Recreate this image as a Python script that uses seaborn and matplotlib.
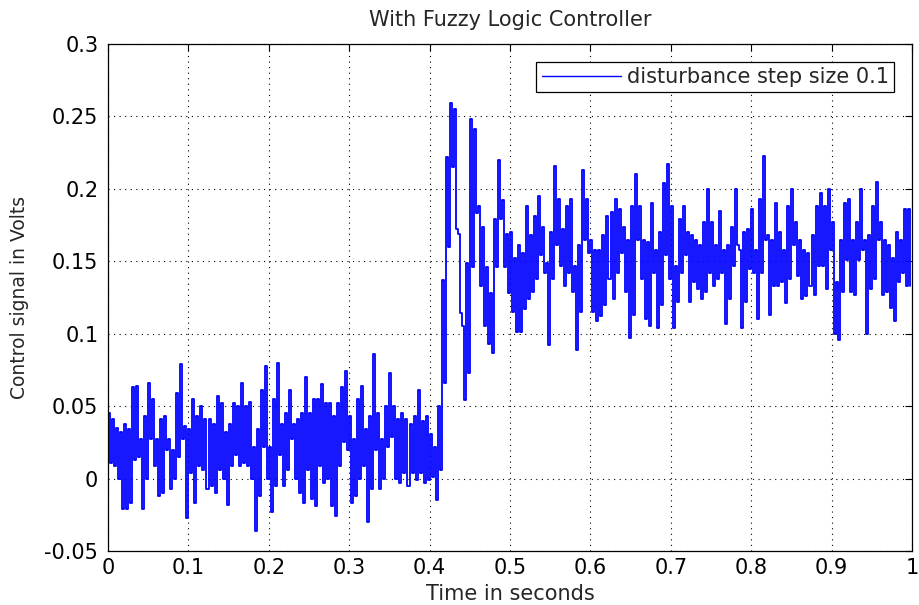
import numpy as np
import pandas as pd
import matplotlib
matplotlib.use("Agg")
import matplotlib.pyplot as plt
import seaborn as sns

# Control signal, sampled every 2.5 ms: for each 5 ms window the upper and
# lower excursion of the signal, in volts.
upper_a = [0.045, 0.041, 0.035, 0.032, 0.038, 0.034, 0.063, 0.064, 0.027, 0.043,
           0.066, 0.055, 0.027, 0.041, 0.043, 0.027, 0.020, 0.059, 0.079, 0.036,
           0.034, 0.055, 0.043, 0.050, 0.041]
lower_a = [0.011, 0.009, 0.000, -0.021, -0.021, -0.017, 0.013, 0.015, -0.021, 0.000,
           0.027, 0.009, -0.012, -0.010, 0.020, -0.007, 0.000, 0.015, 0.027, -0.027,
           0.004, -0.017, 0.009, 0.006, -0.007]
upper_b = [0.041, 0.038, 0.057, 0.052, 0.032, 0.038, 0.052, 0.050, 0.066, 0.050,
           0.053, 0.022, 0.034, 0.061, 0.078, 0.022, 0.055, 0.080, 0.038, 0.045,
           0.061, 0.038, 0.041, 0.045, 0.070]
lower_b = [-0.005, -0.010, 0.006, 0.000, -0.018, 0.009, 0.016, 0.009, 0.011, 0.009,
           0.000, -0.036, -0.012, 0.022, 0.000, -0.023, -0.005, 0.016, -0.005, 0.006,
           0.027, 0.000, -0.010, -0.017, 0.006]
upper_c = [0.045, 0.055, 0.055, 0.065, 0.052, 0.052, 0.043, 0.052, 0.063, 0.074,
           0.043, 0.027, 0.055, 0.064, 0.034, 0.043, 0.086, 0.045, 0.027, 0.050,
           0.073, 0.050, 0.041, 0.045, 0.041]
lower_c = [-0.014, -0.019, 0.009, -0.003, 0.000, -0.019, -0.026, 0.009, 0.025, 0.020,
           -0.017, -0.012, 0.000, 0.009, -0.030, -0.007, 0.020, -0.007, 0.000, 0.022,
           0.029, 0.000, -0.003, 0.004, -0.005]
upper_d = [0.038, 0.043, 0.061, 0.040, 0.043, 0.031, 0.022, 0.050, 0.137, 0.222,
           0.259, 0.255, 0.169, 0.105, 0.149, 0.248, 0.241, 0.188, 0.174, 0.146,
           0.128, 0.179, 0.220, 0.192, 0.169]
lower_d = [0.004, -0.001, 0.004, -0.003, -0.001, 0.001, -0.015, 0.006, 0.066, 0.160,
           0.215, 0.172, 0.114, 0.054, 0.073, 0.146, 0.183, 0.133, 0.105, 0.093,
           0.087, 0.146, 0.179, 0.146, 0.128]
upper_e = [0.170, 0.152, 0.161, 0.156, 0.188, 0.168, 0.181, 0.195, 0.174, 0.149,
           0.170, 0.216, 0.193, 0.172, 0.188, 0.193, 0.147, 0.161, 0.213, 0.193,
           0.165, 0.158, 0.158, 0.168, 0.181]
lower_e = [0.115, 0.101, 0.101, 0.117, 0.124, 0.129, 0.138, 0.154, 0.142, 0.092,
           0.138, 0.161, 0.147, 0.133, 0.142, 0.129, 0.089, 0.115, 0.165, 0.156,
           0.115, 0.109, 0.112, 0.120, 0.138]
upper_f = [0.184, 0.193, 0.186, 0.174, 0.165, 0.188, 0.210, 0.188, 0.165, 0.163,
           0.190, 0.158, 0.170, 0.204, 0.217, 0.188, 0.147, 0.179, 0.188, 0.170,
           0.168, 0.165, 0.161, 0.177, 0.200]
lower_f = [0.124, 0.142, 0.156, 0.129, 0.097, 0.113, 0.165, 0.138, 0.110, 0.105,
           0.142, 0.104, 0.120, 0.154, 0.138, 0.104, 0.122, 0.142, 0.154, 0.122,
           0.136, 0.131, 0.124, 0.129, 0.142]
upper_g = [0.177, 0.161, 0.185, 0.158, 0.161, 0.174, 0.200, 0.158, 0.170, 0.172,
           0.186, 0.158, 0.193, 0.223, 0.168, 0.165, 0.190, 0.170, 0.158, 0.188,
           0.200, 0.177, 0.165, 0.158, 0.156]
lower_g = [0.133, 0.138, 0.142, 0.107, 0.124, 0.147, 0.161, 0.104, 0.122, 0.145,
           0.142, 0.110, 0.142, 0.165, 0.113, 0.133, 0.133, 0.136, 0.121, 0.138,
           0.161, 0.140, 0.124, 0.126, 0.133]
upper_h = [0.168, 0.188, 0.197, 0.188, 0.200, 0.177, 0.136, 0.165, 0.190, 0.193,
           0.165, 0.177, 0.200, 0.165, 0.168, 0.188, 0.205, 0.177, 0.165, 0.161,
           0.152, 0.170, 0.165, 0.186, 0.186]
lower_h = [0.127, 0.147, 0.147, 0.131, 0.158, 0.100, 0.096, 0.129, 0.151, 0.129,
           0.127, 0.151, 0.158, 0.100, 0.131, 0.138, 0.165, 0.127, 0.129, 0.118,
           0.109, 0.136, 0.142, 0.133, 0.133]

sample_period = 0.0025
series_label = "disturbance step size 0.1"

x_ticks = [0, 0.1, 0.2, 0.3, 0.4, 0.5, 0.6, 0.7, 0.8, 0.9, 1.0]
x_tick_labels = ["0", "0.1", "0.2", "0.3", "0.4", "0.5", "0.6", "0.7", "0.8", "0.9", "1"]
y_ticks = [-0.05, 0, 0.05, 0.1, 0.15, 0.2, 0.25, 0.3]
y_tick_labels = ["-0.05", "0", "0.05", "0.1", "0.15", "0.2", "0.25", "0.3"]

upper = upper_a + upper_b + upper_c + upper_d + upper_e + upper_f + upper_g + upper_h
lower = lower_a + lower_b + lower_c + lower_d + lower_e + lower_f + lower_g + lower_h
signal = np.column_stack([upper, lower]).ravel()
time = np.arange(len(signal)) * sample_period
df = pd.DataFrame({"time": time, "signal": signal})

sns.set_style("white")
plt.rcParams["font.family"] = ["DejaVu Sans"]

fig = plt.figure(figsize=(9.19, 6.05), dpi=100)
ax = fig.add_axes([108 / 919, 1 - 551 / 605, 804 / 919, 507 / 605])

sns.lineplot(data=df, x="time", y="signal", ax=ax, color="#0000ff",
             linewidth=1.3, drawstyle="steps-post", estimator=None,
             sort=False, label=series_label)

ax.set_xlim(0, 1)
ax.set_ylim(-0.05, 0.3)
ax.set_xticks(x_ticks)
ax.set_xticklabels(x_tick_labels)
ax.set_yticks(y_ticks)
ax.set_yticklabels(y_tick_labels)

ax.grid(True, color="black", linestyle=(0, (1, 4)), linewidth=0.8)
ax.tick_params(direction="in", top=True, right=True, length=5, width=0.8,
               labelsize=15, colors="black")
ax.tick_params(axis="x", pad=5)
ax.tick_params(axis="y", pad=7)
for sp in ax.spines.values():
    sp.set_color("black")
    sp.set_linewidth(0.9)

ax.set_title("With Fuzzy Logic Controller", fontsize=15, pad=13)
ax.set_xlabel("Time in seconds", fontsize=15, labelpad=4)
ax.set_ylabel("Control signal in Volts", fontsize=13.5, labelpad=11)

leg = ax.legend(loc="upper right", fontsize=15, frameon=True, fancybox=False,
                edgecolor="black", framealpha=1, handlelength=3.8,
                borderaxespad=0.85, borderpad=0.25, handletextpad=0.3)
leg.get_frame().set_linewidth(0.9)
for line in leg.get_lines():
    line.set_linewidth(1.0)

fig.savefig("out.png", dpi=100)
